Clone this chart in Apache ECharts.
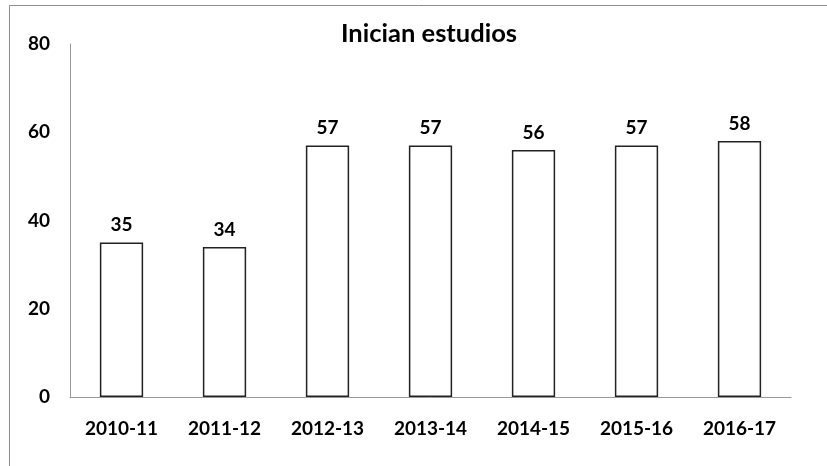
<!DOCTYPE html>
<html><head><meta charset="utf-8">
<script src="https://cdn.jsdelivr.net/npm/echarts@6/dist/echarts.min.js"></script>
<style>html,body{margin:0;padding:0;background:#fff}#c{width:827px;height:466px}</style>
</head><body><div id="c"></div>
<script>
var categories = ['2010-11','2011-12','2012-13','2013-14','2014-15','2015-16','2016-17'];
var values = [35,34,57,57,56,57,58];
var titleText = 'Inician estudios';
var FONT = 'Lato, "Open Sans", sans-serif';
var chart = echarts.init(document.getElementById('c'), null, {renderer:'canvas'});
chart.setOption({
  animation:false,
  backgroundColor:'#fff',
  title:{text:titleText,left:424,top:16,textAlign:'center',textStyle:{fontFamily:FONT,fontWeight:'bold',fontSize:25.5,color:'#000'}},
  graphic:[{type:'rect',shape:{x:9.5,y:5.5,width:830,height:470},style:{fill:'none',stroke:'#8c8c8c',lineWidth:1},silent:true}],
  grid:{left:70,top:44,width:721,height:353},
  xAxis:{type:'category',data:categories,axisLine:{lineStyle:{color:'#999',width:1}},axisTick:{show:false},
    axisLabel:{margin:22,fontFamily:FONT,fontWeight:'bold',fontSize:19,color:'#000'}},
  yAxis:{type:'value',min:0,max:80,interval:20,axisLine:{show:true,lineStyle:{color:'#999',width:1}},axisTick:{show:false},splitLine:{show:false},
    axisLabel:{margin:20,fontFamily:FONT,fontWeight:'bold',fontSize:19,color:'#000'}},
  series:[{type:'bar',data:values,barWidth:'42%',itemStyle:{color:'#fff',borderColor:'#222',borderWidth:1.5},
    label:{show:true,position:'top',distance:8,fontFamily:FONT,fontWeight:'bold',fontSize:19,color:'#000'}}]
});
</script></body></html>
